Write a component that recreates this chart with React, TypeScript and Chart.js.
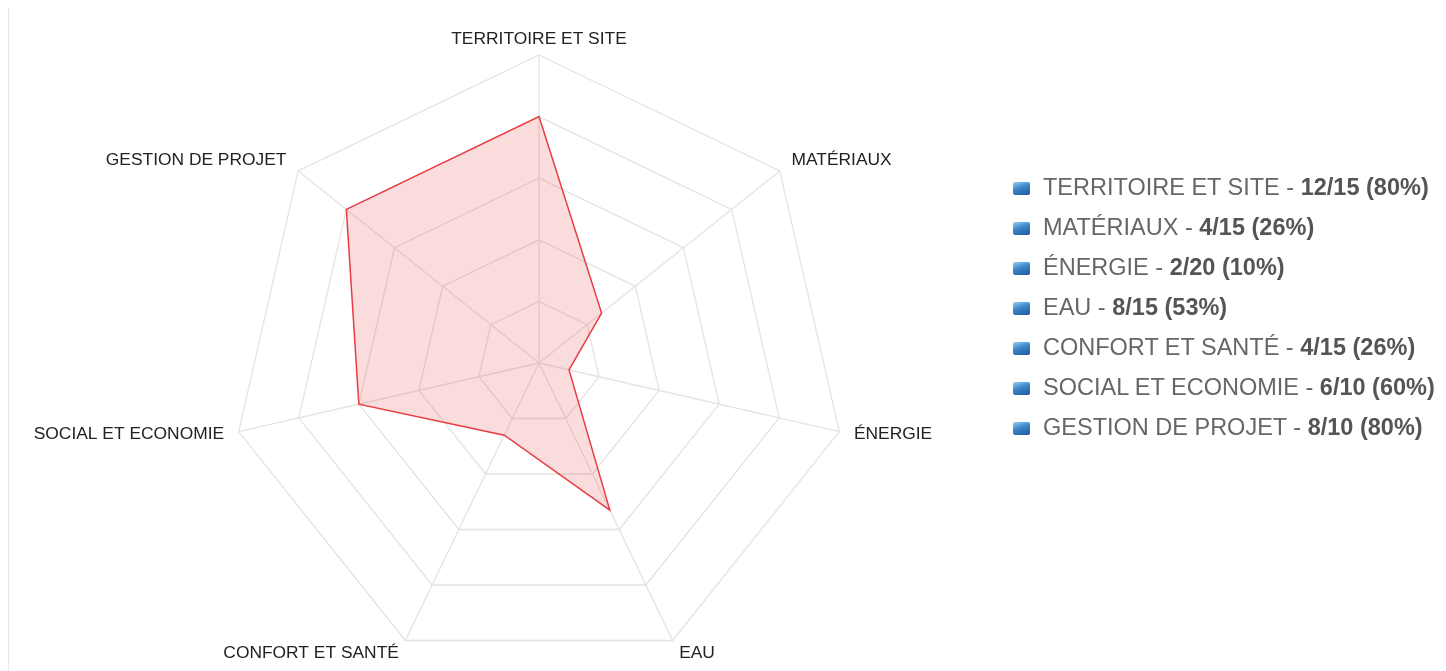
import React, { useEffect, useRef } from "react";
import { Chart, registerables } from "chart.js";

Chart.register(...registerables);

const categories = [
  "TERRITOIRE ET SITE",
  "MATÉRIAUX",
  "ÉNERGIE",
  "EAU",
  "CONFORT ET SANTÉ",
  "SOCIAL ET ECONOMIE",
  "GESTION DE PROJET",
];
const scores = [12, 4, 2, 8, 4, 6, 8];
const maxima = [15, 15, 20, 15, 15, 10, 10];
const percents = [80, 26, 10, 53, 26, 60, 80];
const ringTicks = [0, 20, 40, 60, 80, 100];

const LABEL_FONT = "17.4px 'Liberation Sans', Arial, sans-serif";

const pointLabelPlugin = {
  id: "customPointLabels",
  afterDraw(chart: any) {
    const scale = chart.scales.r;
    if (!scale) return;
    const ctx = chart.ctx;
    ctx.save();
    ctx.font = LABEL_FONT;
    ctx.fillStyle = "#222";
    ctx.textBaseline = "middle";
    const labels: string[] = chart.data.labels;
    labels.forEach((label, i) => {
      const pos = scale.getPointPosition(i, scale.drawingArea + 15);
      const dx = pos.x - scale.xCenter;
      if (Math.abs(dx) < 1) ctx.textAlign = "center";
      else if (dx > 0) ctx.textAlign = "left";
      else ctx.textAlign = "right";
      ctx.fillText(label, pos.x, pos.y - 1);
    });
    ctx.restore();
  },
};

export default function App() {
  const canvasRef = useRef<HTMLCanvasElement | null>(null);

  useEffect(() => {
    document.body.style.overflow = "hidden";
    const canvas = canvasRef.current;
    if (!canvas) return;
    const chart = new Chart(canvas, {
      type: "radar",
      data: {
        labels: categories,
        datasets: [
          {
            label: "Score",
            data: percents,
            borderColor: "rgba(232, 60, 65, 1)",
            backgroundColor: "rgba(232, 60, 65, 0.18)",
            borderWidth: 1.5,
            pointRadius: 0,
            pointHoverRadius: 0,
            fill: true,
          },
        ],
      },
      options: {
        responsive: false,
        animation: false,
        layout: { padding: { left: 0, right: 0, top: 47, bottom: 0 } },
        plugins: {
          legend: { display: false },
          tooltip: { enabled: false },
        },
        scales: {
          r: {
            min: ringTicks[0],
            max: ringTicks[ringTicks.length - 1],
            ticks: { display: false, stepSize: 20 },
            grid: { color: "#e3e3e3", lineWidth: 1.3 },
            angleLines: { color: "#e3e3e3", lineWidth: 1.3 },
            pointLabels: { display: false },
          },
        },
      },
      plugins: [pointLabelPlugin],
    });
    return () => chart.destroy();
  }, []);

  return (
    <div
      style={{
        position: "relative",
        width: 1428,
        height: 663,
        borderLeft: "1px solid #e8e8e8",
        fontFamily: "'Liberation Sans', Arial, sans-serif",
      }}
    >
      <canvas
        ref={canvasRef}
        width={1060}
        height={663}
        style={{ position: "absolute", left: 0, top: 0 }}
      />
      <div style={{ position: "absolute", left: 1004, top: 159 }}>
        {categories.map((c, i) => (
          <div
            key={c}
            style={{
              display: "flex",
              alignItems: "center",
              height: 40,
              whiteSpace: "nowrap",
            }}
          >
            <span
              style={{
                display: "inline-block",
                width: 17,
                height: 13,
                borderRadius: 2,
                marginRight: 13,
                marginTop: 2,
                background:
                  "linear-gradient(160deg, #9ccff5 0%, #3a85c8 45%, #1d5a96 100%)",
              }}
            />
            <span style={{ fontSize: 23.5, color: "#666" }}>
              {c} -{" "}
              <b style={{ color: "#555" }}>
                {scores[i]}/{maxima[i]} ({percents[i]}%)
              </b>
            </span>
          </div>
        ))}
      </div>
    </div>
  );
}
